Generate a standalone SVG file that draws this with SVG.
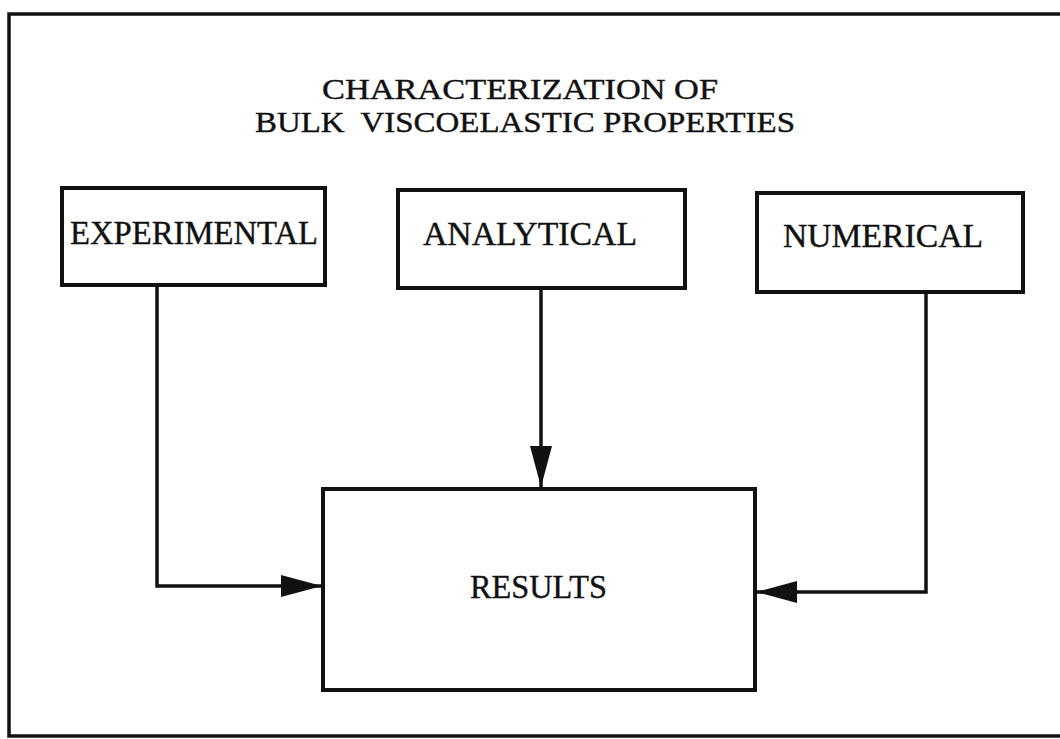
<svg xmlns="http://www.w3.org/2000/svg" width="1060" height="739" viewBox="0 0 1060 739">
<defs>
<style>
.box{fill:#fff;stroke:#111;stroke-width:4}
.lbl{font-family:"Liberation Serif",serif;font-size:33px;fill:#111;stroke:#111;stroke-width:0.4}
.ttl{font-family:"Liberation Serif",serif;font-size:30px;fill:#111;stroke:#111;stroke-width:0.4}
.conn{fill:none;stroke:#111;stroke-width:3.5}
.frame{fill:none;stroke:#111;stroke-width:3.5}
</style>
<marker id="arr" markerUnits="userSpaceOnUse" markerWidth="42" markerHeight="24" refX="41" refY="11" orient="auto">
<path d="M0,0 L41,11 L0,22 Z" fill="#111"/>
</marker>
</defs>
<rect width="1060" height="739" fill="#fff"/>
<path class="frame" d="M1060,14 H9 V736 H1060"/>
<g id="title">
<text class="ttl" x="322" y="99" textLength="396" lengthAdjust="spacingAndGlyphs">CHARACTERIZATION OF</text>
<text class="ttl" x="255" y="132" textLength="540" lengthAdjust="spacingAndGlyphs" xml:space="preserve">BULK  VISCOELASTIC PROPERTIES</text>
</g>
<g id="connectors">
<path class="conn" d="M157,285 V586 H322" marker-end="url(#arr)"/>
<path class="conn" d="M541,288 V487" marker-end="url(#arr)"/>
<path class="conn" d="M926,292 V592 H756" marker-end="url(#arr)"/>
</g>
<g id="experimental">
<rect class="box" x="62" y="188" width="263" height="97"/>
<text class="lbl" x="70" y="244" textLength="248" lengthAdjust="spacingAndGlyphs">EXPERIMENTAL</text>
</g>
<g id="analytical">
<rect class="box" x="398" y="190" width="287" height="98"/>
<text class="lbl" x="423" y="245" textLength="214" lengthAdjust="spacingAndGlyphs">ANALYTICAL</text>
</g>
<g id="numerical">
<rect class="box" x="757" y="193" width="266" height="99"/>
<text class="lbl" x="783" y="247" textLength="200" lengthAdjust="spacingAndGlyphs">NUMERICAL</text>
</g>
<g id="results">
<rect class="box" x="323" y="489" width="432" height="201"/>
<text class="lbl" x="470" y="598" textLength="137" lengthAdjust="spacingAndGlyphs">RESULTS</text>
</g>
</svg>
